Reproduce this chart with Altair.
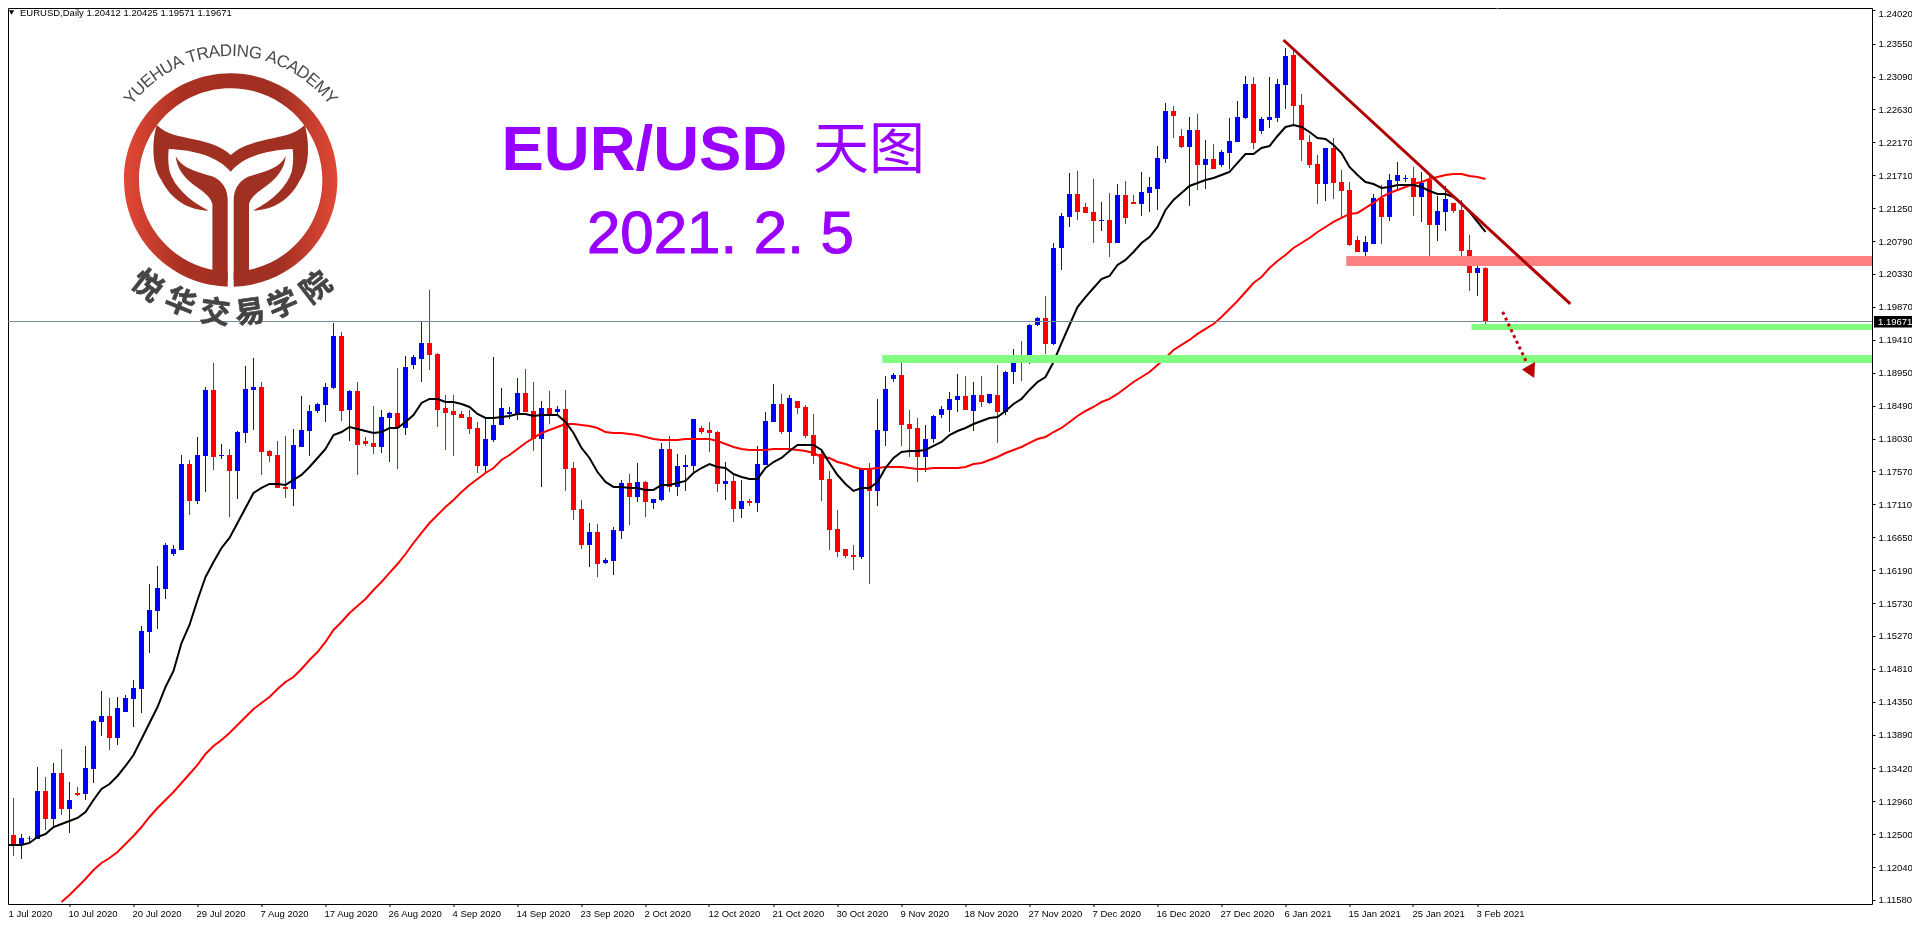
import math
import altair as alt
import pandas as pd

# ---------- values (price x 100000) ----------
high = [112726,113006,112502,112474,113439,113299,113495,113690,113229,113159,
113732,114096,114501,114403,114417,114445,114655,115410,115997,116248,
116570,116542,117800,117730,118052,118751,119086,117954,117884,118136,
119044,119156,118820,117870,117996,118066,118163,118625,118499,118527,
118806,119645,119519,118709,118820,118052,118485,118429,118401,119016,
119184,119198,119659,120107,119226,118639,118639,118415,118429,118261,
118317,119170,118737,118471,118876,119002,118820,118555,118695,118485,
118709,117702,117171,116849,116835,116360,116793,117451,117535,117688,
117437,117185,117968,118066,117814,117800,118303,118205,118261,118135,
117702,117535,117451,117185,117926,118401,118792,118653,118639,118555,
118499,118373,117870,117576,117031,116486,116542,117604,117688,118583,
118904,118946,119198,118429,118317,118219,118359,118485,118681,118932,
118904,118820,118904,118653,119058,118974,119282,119394,119631,119729,
120023,120763,121183,121742,121770,121323,121658,121337,121462,121588,
121630,121434,121756,121686,122119,122720,122678,122357,122525,122567,
122203,122147,122063,122511,122748,123098,123084,122525,123084,123056,
123489,123447,122846,122273,121993,122091,122231,121784,121616,120861,
120861,121448,121574,121728,121896,121714,121826,121756,121714,121420,
121560,121323,121365,120875,120498,120425]
body_hi = [112488,112488,112446,112439,113103,113103,113355,113355,112978,113075,
113425,114082,114152,114152,114263,114403,114543,115340,115633,115941,
116542,116486,117674,117674,117800,118709,118709,117800,117800,118122,
118723,118751,118751,117856,117800,117353,117940,118150,118415,118513,
118751,119463,119463,118695,118695,117996,117968,118331,118387,118387,
119030,119170,119365,119365,119212,118457,118415,118373,118331,118177,
118023,118219,118457,118401,118667,118667,118415,118457,118457,118443,
118443,117618,117045,116724,116724,116332,116751,117409,117409,117423,
117423,117185,117884,117884,117646,117660,118303,118177,118149,118121,
117437,117437,117157,117157,117674,118275,118513,118513,118597,118555,
118471,118079,117814,117465,116765,116486,116402,117604,117618,118149,
118723,118918,118918,118233,118177,118023,118345,118443,118583,118625,
118625,118639,118639,118653,118639,118960,119156,119156,119617,119715,
119715,120693,121141,121448,121448,121267,121197,121085,121085,121434,
121434,121337,121476,121546,121952,122608,122608,122259,122343,122343,
121938,121938,122035,122189,122525,122986,122986,122497,122525,122986,
123377,123391,122692,122175,121868,122091,122091,121616,121504,120805,
120777,121392,121392,121644,121714,121672,121672,121602,121644,121211,
121378,121323,121225,120665,120414,120412]
body_lo = [112307,112349,112349,112432,112432,112712,112712,112852,112852,113047,
113061,113411,114068,113844,113844,114207,114389,114529,115326,115619,
115927,116416,116472,117157,117157,117786,117772,117786,117576,117576,
118108,118709,117842,117786,117339,117325,117325,117912,118135,118415,
118499,118737,118415,118429,117940,117954,117912,117912,118317,118177,
118177,119058,119142,119198,118429,118387,118359,118317,118163,117646,
117646,118009,118219,118373,118373,118401,118023,118023,118359,118401,
117604,117031,116542,116542,116276,116290,116318,116738,117213,117213,
117143,117129,117171,117353,117353,117632,117646,118121,118107,117395,
117395,117045,117045,117129,117129,117660,118261,118121,118121,118457,
118066,117786,117451,116751,116444,116388,116374,116374,117297,117297,
118135,118862,118219,118163,117772,117772,118023,118359,118429,118569,
118429,118415,118541,118527,118401,118401,118960,119086,119086,119617,
119351,119351,120693,121127,121197,121183,121071,121071,120763,120763,
121113,121309,121309,121462,121518,121938,122539,122105,122105,121854,
121854,121798,121854,122021,122175,122511,122161,122329,122483,122511,
122972,122678,122203,121854,121588,121588,121602,121490,120735,120638,
120638,120749,121127,121127,121630,121658,121406,121406,121015,121015,
121197,121211,120652,120344,120344,119671]
low = [111817,112195,112153,112391,112432,112558,112600,112768,112516,113033,
112978,113215,113872,113676,113746,114207,113997,114194,115032,115368,
115787,116388,116472,116961,117115,117283,117590,117744,116933,117185,
117968,118150,117520,117702,117339,117199,117087,117912,117786,118387,
118261,118723,118275,117996,117520,117926,117814,117828,117702,117604,
118079,119002,118820,118988,118191,117870,117786,118317,118093,117548,
117534,117982,118219,118303,118289,118401,117856,117353,118233,118373,
117297,116891,116486,116234,116094,116276,116122,116626,116821,117143,
116933,117045,117157,117283,117227,117297,117548,118093,117842,117283,
117171,116863,116919,117087,117003,117660,118261,118093,117870,118373,
118038,117674,117157,116472,116374,116360,116192,116346,115997,117087,
117926,118820,117926,117772,117423,117562,117968,118317,118121,118401,
118429,118135,118471,118513,117968,118359,118792,118834,119072,119603,
119212,119338,120386,120987,121085,121183,120763,120931,120568,120763,
121029,121309,121141,121197,121225,121882,122231,122091,121281,121504,
121518,121798,121826,121798,122175,122497,122077,122287,122371,122455,
122637,122427,121910,121812,121309,121351,121378,121113,120721,120638,
120512,120749,120749,121071,121504,121616,121141,121057,120568,120791,
120931,121183,120540,120092,120022,119571]
direction = ("BRBBBRBRBR" "BBBRBBBBBB" "BBBRBBRBRB" "BBRRRRBBBB" "BBRBRRRBBR"
             "BBBRRRRRRR" "BBBBBRRBRB" "RRRBRBBBRB" "RBBRBBBRRR" "BRBRBBBRBR"
             "RRRRRRRBRB" "BBRRRBBBBB" "RBRBRBBRBB" "RBBBRRRBRB" "RRBBBBRRBR"
             "BRBBBBRBBB" "BRRRRBRRRR" "BBRBBBRBRB" "BRRRBR")
ma_black = [112349,112349,112349,112377,112461,112502,112600,112642,112684,112726,
112810,112978,113131,113201,113313,113453,113606,113830,114054,114277,
114557,114781,115172,115424,115773,116094,116305,116500,116640,116849,
117060,117269,117339,117395,117395,117381,117451,117521,117632,117758,
117884,118079,118121,118191,118163,118135,118107,118121,118177,118177,
118261,118359,118527,118583,118583,118541,118541,118513,118471,118373,
118317,118317,118331,118345,118373,118373,118345,118359,118359,118359,
118261,118107,117898,117758,117562,117423,117353,117353,117339,117339,
117311,117311,117381,117381,117409,117437,117548,117618,117674,117632,
117618,117534,117493,117465,117465,117618,117702,117758,117856,117940,
117940,117940,117870,117688,117520,117395,117297,117339,117339,117423,
117618,117758,117842,117856,117856,117870,117926,117982,118079,118135,
118177,118233,118275,118317,118331,118415,118513,118583,118709,118820,
118890,119100,119365,119617,119868,120008,120134,120260,120302,120456,
120526,120638,120763,120847,120987,121225,121365,121462,121560,121602,
121644,121672,121714,121756,121882,122007,122007,122091,122119,122259,
122385,122413,122385,122315,122231,122217,122133,122021,121826,121714,
121616,121588,121532,121546,121574,121574,121574,121546,121490,121448,
121448,121406,121323,121197,121057,120917]
ma_red_start = 7
ma_red = [111552,111650,111762,111873,111999,112097,112167,112251,112363,112474,
112600,112740,112866,112978,113089,113215,113341,113467,113621,113732,
113816,113914,114026,114138,114249,114333,114417,114529,114627,114697,
114809,114934,115046,115186,115354,115466,115591,115689,115787,115913,
116025,116151,116276,116416,116570,116710,116849,116961,117073,117171,
117283,117381,117465,117548,117618,117730,117800,117884,117968,118038,
118107,118149,118191,118233,118233,118219,118205,118177,118121,118107,
118107,118093,118079,118052,118023,118009,118009,118009,118023,118023,
118023,118023,117996,117954,117912,117884,117870,117870,117870,117884,
117884,117884,117870,117856,117828,117772,117758,117702,117674,117632,
117604,117604,117618,117632,117632,117632,117618,117604,117604,117618,
117618,117618,117618,117632,117674,117688,117730,117772,117828,117870,
117912,117968,118023,118052,118121,118177,118261,118345,118415,118471,
118541,118583,118653,118737,118820,118890,118960,119058,119156,119268,
119338,119408,119492,119562,119631,119729,119841,119952,120078,120204,
120288,120414,120512,120596,120694,120763,120833,120917,120987,121057,
121113,121169,121183,121253,121323,121406,121462,121504,121546,121588,
121616,121658,121686,121714,121728,121728,121700,121686,121658]
date_labels = ["1 Jul 2020","10 Jul 2020","20 Jul 2020","29 Jul 2020","7 Aug 2020","17 Aug 2020",
"26 Aug 2020","4 Sep 2020","14 Sep 2020","23 Sep 2020","2 Oct 2020","12 Oct 2020","21 Oct 2020",
"30 Oct 2020","9 Nov 2020","18 Nov 2020","27 Nov 2020","7 Dec 2020","16 Dec 2020","27 Dec 2020",
"6 Jan 2021","15 Jan 2021","25 Jan 2021","3 Feb 2021"]
price_ticks = [1.24020,1.23550,1.23090,1.22630,1.22170,1.21710,1.21250,1.20790,1.20330,1.19870,
1.19410,1.18950,1.18490,1.18030,1.17570,1.17110,1.16650,1.16190,1.15730,1.15270,1.14810,
1.14350,1.13890,1.13420,1.12960,1.12500,1.12040,1.11580]
trend_line = {"n": [159.75, 195.6], "p": [1.23601, 1.19911]}
dotted_arrow = {"n": [187.15, 190.15], "p": [1.19799, 1.19090]}
arrow_head = {"n": [190.56], "p": [1.18995]}
zones = {"n": [167.6, 183.25, 109.6], "top": [1.20582, 1.19631, 1.19198],
         "bottom": [1.20442, 1.19547, 1.19086], "color": ["#FF8080", "#80FF80", "#80FF80"]}
bid_price = 1.19666
X_END = 233.3125

# ---------- frames ----------
candles = pd.DataFrame({
    "n": list(range(len(high))),
    "high": [v / 1e5 for v in high], "low": [v / 1e5 for v in low],
    "hi": [v / 1e5 for v in body_hi], "lo": [v / 1e5 for v in body_lo],
    "dir": list(direction),
})
black_df = pd.DataFrame({"n": list(range(len(ma_black))), "v": [v / 1e5 for v in ma_black]})
red_df = pd.DataFrame({"n": list(range(ma_red_start, ma_red_start + len(ma_red))), "v": [v / 1e5 for v in ma_red]})
zones_df = pd.DataFrame(zones).assign(end=X_END)

FONT = "Liberation Sans"
PURPLE = "#9900FF"

label_expr = "[" + ",".join("'%s'" % s for s in date_labels) + "][datum.value/8]"
x_axis = alt.Axis(values=[i * 8 for i in range(len(date_labels))], labelExpr=label_expr, title=None,
                  domain=False, grid=False, ticks=True, tickSize=3, tickColor="black", translate=0,
                  labelFont=FONT, labelFontSize=9.5, labelColor="black", labelAlign="left",
                  labelBaseline="top", labelPadding=2, labelOverlap=False, labelBound=False, labelFlush=False,
                  labelOffset={"condition": {"test": "datum.value===0", "value": 3}, "value": -1})
y_axis = alt.Axis(values=price_ticks, format=".5f", orient="right", title=None, domain=False, grid=False,
                  tickSize=3, tickColor="black", labelFont=FONT, labelFontSize=9.5, labelColor="black",
                  labelPadding=3, labelOverlap=False, labelBound=False, labelFlush=False,
                  labelOffset={"condition": {"test": "datum.value>1.24", "value": 3}, "value": 0})
xs = alt.Scale(domain=[0, X_END], range=[-2.5, 1864], nice=False, zero=False, padding=0)
ys = alt.Scale(domain=[1.115237, 1.24048], nice=False, zero=False, padding=0)
X = alt.X("n:Q", scale=xs, axis=x_axis)
Y = alt.Y("v:Q", scale=ys, axis=y_axis)
dir_color = alt.Color("dir:N", scale=alt.Scale(domain=["B", "R"], range=["#0000FF", "#FF0000"]), legend=None)

wicks = alt.Chart(candles).mark_rule(strokeWidth=1, clip=True).encode(
    x=X, y=alt.Y("high:Q", scale=ys, axis=y_axis), y2="low:Q", color=dir_color)
bodies = alt.Chart(candles).mark_bar(size=5, clip=True).encode(
    x=X, y=alt.Y("hi:Q", scale=ys, axis=y_axis), y2="lo:Q", color=dir_color)
bid = alt.Chart(pd.DataFrame({"v": [bid_price]})).mark_rule(color="#778899", strokeWidth=1).encode(y=Y)
line_black = alt.Chart(black_df).mark_line(color="black", strokeWidth=2, clip=True).encode(x=X, y=Y)
line_red = alt.Chart(red_df).mark_line(color="#FF0000", strokeWidth=2, clip=True).encode(x=X, y=Y)
zone_rects = alt.Chart(zones_df).mark_rect(blend="multiply", clip=True).encode(
    x=X, x2="end:Q",
    y=alt.Y("top:Q", scale=ys, axis=y_axis), y2="bottom:Q",
    color=alt.Color("color:N", scale=None, legend=None))
trend = alt.Chart(pd.DataFrame({"n": trend_line["n"], "v": trend_line["p"]})).mark_line(
    color="#B00000", strokeWidth=3).encode(x=X, y=Y)
dots = alt.Chart(pd.DataFrame({"n": dotted_arrow["n"], "v": dotted_arrow["p"]})).mark_line(
    color="#C00010", strokeWidth=3, strokeDash=[3, 3.4]).encode(x=X, y=Y)
head = alt.Chart(pd.DataFrame({"n": arrow_head["n"], "v": arrow_head["p"]})).mark_point(
    shape="M-0.8,0L0.5,-0.75L0.43,0.85Z", size=400, filled=True, color="#B80000", opacity=1, strokeWidth=0
).encode(x=X, y=Y)


def pos_text(txt, x, y, **kw):
    return alt.Chart().mark_text(text=txt, **kw).encode(x=alt.value(x), y=alt.value(y))


# price box on the right axis
box = alt.Chart().mark_rect(color="black", clip=False).encode(
    x=alt.value(1866), x2=alt.value(1904), y=alt.value(308), y2=alt.value(319.5))
box_text = pos_text("1.19671", 1870, 314, font=FONT, fontSize=9.5, color="white", align="left", baseline="middle")

header = pos_text("EURUSD,Daily  1.20412 1.20425 1.19571 1.19671", 12, 4.7, font=FONT, fontSize=9.5,
                  color="black", align="left", baseline="middle")
header_tri = alt.Chart().mark_point(shape="triangle-down", size=28, filled=True, color="black", opacity=1).encode(
    x=alt.value(3.5), y=alt.value(4.5))
shift_tri = alt.Chart().mark_point(shape="triangle-down", size=70, filled=True, color="#778899", opacity=1).encode(
    x=alt.value(1489.5), y=alt.value(-2))

title1 = pos_text("EUR/USD", 493.5, 162, font=FONT, fontSize=63.5, fontWeight="bold", color=PURPLE,
                  align="left", baseline="alphabetic")
title2 = pos_text("天图", 805, 160, font="Noto Sans CJK SC", fontSize=56, color=PURPLE,
                  align="left", baseline="alphabetic")
title3 = pos_text("2021. 2. 5", 579, 245, font=FONT, fontSize=60, color=PURPLE, stroke=PURPLE, strokeWidth=1,
                  align="left", baseline="alphabetic")

# ---------- logo ----------
LX, LY = 222.7, 172.0


def u(x, y):
    return "%.3f,%.3f" % ((x - 692) / 300, (y - 540) / 300)


def mirror(x):
    return 1384 - x


R, r = 320 / 300, 275 / 300
ring_path = (f"M{-R},0A{R},{R} 0 1 1 {R},0A{R},{R} 0 1 1 {-R},0Z"
             f"M{-r},0A{r},{r} 0 1 0 {r},0A{r},{r} 0 1 0 {-r},0Z")
tail_pts = ("M" + u(470, 375) + "C" + u(500, 405) + " " + u(540, 408) + " " + u(580, 418) + "C" + u(630, 428) + " " + u(665, 440) + " " + u(692, 465)
            + "C" + u(719, 440) + " " + u(754, 428) + " " + u(804, 418) + "C" + u(844, 408) + " " + u(884, 405) + " " + u(914, 375)
            + "C" + u(930, 430) + " " + u(928, 500) + " " + u(900, 540) + "C" + u(870, 600) + " " + u(820, 630) + " " + u(758, 632)
            + "C" + u(820, 600) + " " + u(860, 560) + " " + u(875, 515) + "C" + u(880, 490) + " " + u(880, 470) + " " + u(878, 447)
            + "C" + u(800, 450) + " " + u(730, 470) + " " + u(692, 515) + "C" + u(654, 470) + " " + u(584, 450) + " " + u(506, 447)
            + "C" + u(504, 470) + " " + u(504, 490) + " " + u(509, 515) + "C" + u(524, 560) + " " + u(564, 600) + " " + u(626, 632)
            + "C" + u(564, 630) + " " + u(514, 600) + " " + u(484, 540) + "C" + u(456, 500) + " " + u(454, 430) + " " + u(470, 375) + "Z")


def stem(m):
    f = (lambda x: x) if not m else mirror
    return ("M" + u(f(527), 468) + "C" + u(f(545), 505) + " " + u(f(590), 515) + " " + u(f(640), 530)
            + "C" + u(f(670), 545) + " " + u(f(683), 570) + " " + u(f(683), 600) + "L" + u(f(683), 835)
            + "C" + u(f(683), 852) + " " + u(f(670), 858) + " " + u(f(655), 855) + "L" + u(f(620), 835)
            + "L" + u(f(637), 809) + "L" + u(f(637), 612) + "C" + u(f(630), 585) + " " + u(f(600), 570) + " " + u(f(575), 550)
            + "C" + u(f(545), 525) + " " + u(f(530), 500) + " " + u(f(527), 468) + "Z")


gap_path = "M" + u(683, 800) + "L" + u(701, 800) + "L" + u(701, 875) + "L" + u(683, 875) + "Z"
ring_fill = alt.Gradient(gradient="linear", x1=0, x2=1, y1=0, y2=0, stops=[
    alt.GradientStop(color="#E24836", offset=0), alt.GradientStop(color="#A83022", offset=0.28),
    alt.GradientStop(color="#A03022", offset=0.72), alt.GradientStop(color="#E24836", offset=1)])


def logo_shape(path, fill):
    return alt.Chart().mark_point(shape=path, size=40000, filled=True, fill=fill, opacity=1, strokeWidth=0).encode(
        x=alt.value(LX), y=alt.value(LY))


logo = [logo_shape(ring_path, ring_fill), logo_shape(gap_path, "white"), logo_shape(tail_pts, "#A03022"),
        logo_shape(stem(False), "#A03022"), logo_shape(stem(True), "#A03022")]

letter_w = {" ": .278, "Y": .667, "U": .722, "E": .667, "H": .722, "A": .667, "T": .611, "R": .722, "D": .722,
            "I": .278, "N": .722, "G": .778, "C": .722, "M": .833}
arc_text = "YUEHUA TRADING ACADEMY"
total = sum(letter_w[c] for c in arc_text)
acc = 0.0
for c in arc_text:
    mid = acc + letter_w[c] / 2
    acc += letter_w[c]
    if c == " ":
        continue
    a = -53 + 106 * mid / total
    logo.append(pos_text(c, LX + 129 * math.sin(math.radians(a)), LY - 129 * math.cos(math.radians(a)),
                         font=FONT, fontSize=17, color="#4A4A4A", align="center", baseline="middle", angle=a % 360))
for c, zx, zy, a in [("悦", 440, 860, 38), ("华", 540, 910, 22), ("交", 645, 940, 7),
                     ("易", 750, 940, -8), ("学", 850, 915, -23), ("院", 950, 865, -38)]:
    logo.append(pos_text(c, zx / 3 - 8, zy / 3 - 8, font="Noto Sans CJK SC", fontSize=30, fontWeight="bold",
                         color="#444444", stroke="#444444", strokeWidth=0.6,
                         align="center", baseline="middle", angle=a % 360))

chart = alt.layer(
    wicks, bodies, line_red, line_black, zone_rects, trend, dots, head, bid,
    *logo, title1, title2, title3, header, header_tri, shift_tri, box, box_text,
).properties(
    width=1864, height=896,
    padding={"left": 0, "top": 0, "right": 40, "bottom": 15},
    autosize=alt.AutoSizeParams(type="none"),
    background="white",
).configure_view(stroke="black", strokeWidth=1)

chart.save("out.html", embed_options={"renderer": "svg", "actions": False})
